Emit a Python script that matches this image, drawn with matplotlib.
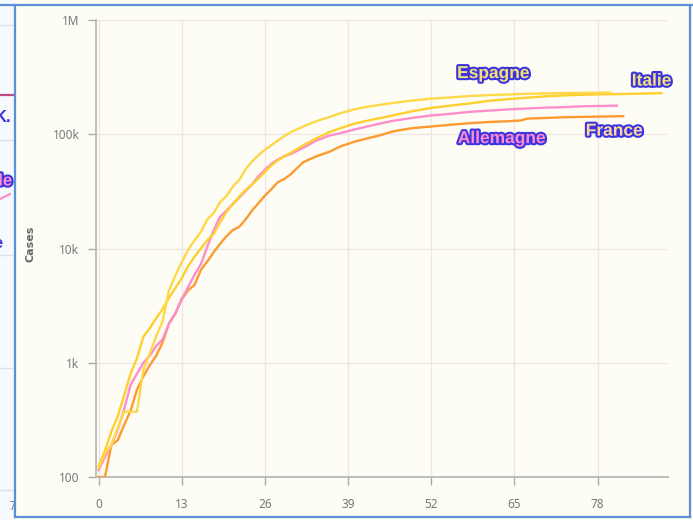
import matplotlib
matplotlib.use("Agg")
import matplotlib.pyplot as plt
import matplotlib.patheffects as pe
from matplotlib.lines import Line2D
from matplotlib.ticker import NullLocator

# --- data (days since 100th case, cumulative cases) ---
italie_days = list(range(0, 31)) + [32, 34, 36, 38, 40, 43, 46, 49, 52, 55, 58, 61, 64, 67, 70, 73, 76, 79, 82, 85, 88]
italie_cases = [125, 170, 250, 340, 520, 800, 1090, 1690, 2000, 2450, 2950, 3700, 4500, 5500, 7000,
                8500, 10000, 11800, 13500, 17000, 21000, 24500, 28500, 32500, 36500, 41000, 47000,
                53500, 59000, 64000, 68500,
                80000, 92000, 104000, 114000, 124000, 135000, 146000, 159000, 170000, 178000, 186000,
                196000, 203000, 209000, 215000, 219000, 222000, 224000, 225000, 227000, 229000]

espagne_days = list(range(0, 31)) + [32, 34, 36, 38, 40, 42, 44, 46, 49, 52, 55, 58, 61, 64, 67, 70, 73, 76, 78, 80]
espagne_cases = [120, 160, 190, 270, 373, 373, 373, 870, 1200, 1700, 2300, 4300, 5800, 7600, 9700,
                 11800, 14000, 18000, 20500, 25400, 28800, 35000, 39900, 49500, 57800, 65700, 73200,
                 80100, 88000, 96000, 104000,
                 117000, 130000, 141000, 154000, 165000, 174000, 181000, 188000, 197000, 205000,
                 210000, 216000, 220000, 223000, 226000, 228000, 229500, 230500, 231000, 231500]

allemagne_days = list(range(0, 31)) + [32, 34, 36, 38, 40, 42, 44, 46, 49, 52, 55, 58, 61, 64, 67, 70, 73, 76, 79, 81]
allemagne_cases = [115, 150, 190, 260, 390, 640, 800, 1000, 1150, 1400, 1600, 2200, 2700, 3600, 4600,
                   5900, 7300, 10400, 14500, 19000, 21500, 24500, 28000, 32000, 36500, 43000, 49000,
                   55000, 60000, 64000, 67000,
                   76000, 88000, 97000, 103000, 110000, 117000, 124000, 131000, 139000, 146000,
                   151000, 157000, 161000, 165000, 168000, 171000, 173000, 176000, 177000, 178000]

france_days = list(range(0, 31)) + [32, 34, 36, 38, 40, 42, 44, 46, 49, 52, 55, 58, 61, 64, 66, 67, 70, 73, 76, 79, 82]
france_cases = [100, 100, 190, 210, 285, 380, 580, 760, 950, 1150, 1500, 2200, 2700, 3600, 4300,
                4800, 6500, 7700, 9300, 11000, 12800, 14500, 15500, 18000, 21500, 25000, 29000,
                33000, 38000, 40500, 44500,
                57000, 64000, 70000, 79000, 86000, 92000, 98000, 106000, 113000, 117000,
                121000, 125000, 128000, 130000, 132000, 137000, 139000, 141000, 142000, 143000, 144000]

x_ticks = [0, 13, 26, 39, 52, 65, 78]
y_ticks = [100, 1000, 10000, 100000, 1000000]
y_tick_labels = ["100", "1k", "10k", "100k", "1M"]

W, H = 693, 520
panel_bg = "#fefdf5"
frame_blue = "#5b8fd6"
outline = "#3b35e0"

fig = plt.figure(figsize=(W / 100, H / 100), dpi=100)
fig.patch.set_facecolor(panel_bg)

# --- bout du graphique voisin (bande gauche, coupé comme sur la capture) ---
axl = fig.add_axes([0, 0, 14 / W, 1])
axl.set_xlim(0, 14)
axl.set_ylim(H, 0)
axl.axis("off")
axl.add_patch(plt.Rectangle((0, 0), 14, H, facecolor="#f6f9fd", edgecolor="none"))
for yy in [25, 140, 255, 368, 490]:
    axl.plot([0, 14], [yy, yy], color="#dde1e6", lw=1)
axl.plot([0, 14], [95, 95], color="#c24a86", lw=1.6)
axl.plot([0, 10], [199, 194], color="#ff8fd0", lw=1.6)
axl.text(12, 118, "K.", ha="right", va="center", fontsize=12, fontweight="bold",
         family="Liberation Sans", color=outline, clip_on=True)
axl.text(12, 181, "le", ha="right", va="center", fontsize=12, fontweight="bold",
         family="Liberation Sans", color="#ff8fd0", clip_on=True,
         path_effects=[pe.withStroke(linewidth=3, foreground=outline)])
axl.text(3, 243, "e", ha="right", va="center", fontsize=12, fontweight="bold",
         family="Liberation Sans", color=outline, clip_on=True)
axl.text(13, 507, "7", ha="center", va="center", fontsize=8.5, color="#888888", clip_on=True)

# --- cadre du panneau ---
def fig_line(x0, y0, x1, y1, lw=1.6):
    fig.add_artist(Line2D([x0 / W, x1 / W], [1 - y0 / H, 1 - y1 / H],
                          transform=fig.transFigure, color=frame_blue, lw=lw))

fig_line(0, 5, W, 5)
fig_line(14.5, 5, 14.5, 517)
fig_line(14.5, 517, 690, 517)
fig_line(690, 5, 690, 517)

# --- graphique principal ---
ax = fig.add_axes([96 / W, 1 - 477 / H, (668 - 96) / W, (477 - 20) / H])
ax.set_facecolor(panel_bg)
ax.set_yscale("log")
ax.set_ylim(100, 1000000)
ax.set_xlim(-0.4, 89)

ax.plot(france_days, france_cases, color="#ff9a30", lw=1.7, zorder=3)
ax.plot(allemagne_days, allemagne_cases, color="#ff8ccc", lw=1.7, zorder=3)
ax.plot(italie_days, italie_cases, color="#ffcf2e", lw=1.7, zorder=4)
ax.plot(espagne_days, espagne_cases, color="#ffd84a", lw=1.7, zorder=4)

ax.set_xticks(x_ticks)
ax.set_yticks(y_ticks)
ax.set_yticklabels(y_tick_labels)
ax.yaxis.set_minor_locator(NullLocator())
ax.tick_params(axis="both", colors="#aaaaaa", labelcolor="#777777", labelsize=8.5, length=6, width=1)
ax.tick_params(axis="x", pad=9)
ax.tick_params(axis="y", pad=6)
for lab in ax.get_xticklabels() + ax.get_yticklabels():
    lab.set_family("Noto Sans")

ax.grid(True, color="#ece7e2", lw=1)
for s in ["top", "right"]:
    ax.spines[s].set_visible(False)
for s in ["left", "bottom"]:
    ax.spines[s].set_color("#b8b8b8")
    ax.spines[s].set_linewidth(1.3)

ax.set_ylabel("Cases", color="#666666", fontsize=8, fontweight="bold", family="DejaVu Sans")
ax.yaxis.set_label_coords(-0.105, 0.51)

# --- étiquettes des séries ---
labels = [
    ("Espagne", espagne_days, espagne_cases, "#f6e07c", (-117, 19)),
    ("Italie", italie_days, italie_cases, "#f6e07c", (-10, 12)),
    ("Allemagne", allemagne_days, allemagne_cases, "#ff88d0", (-115, -33)),
    ("France", france_days, france_cases, "#ffd6a0", (-9, -15)),
]
for name, xs, ys, fill, off in labels:
    ax.annotate(name, xy=(xs[-1], ys[-1]), xytext=off, textcoords="offset pixels",
                ha="center", va="center", fontsize=12.5, fontweight="bold",
                family="Liberation Sans", color=fill, zorder=6,
                path_effects=[pe.withStroke(linewidth=3, foreground=outline)])

fig.savefig("out.png", dpi=100, facecolor=fig.get_facecolor())
